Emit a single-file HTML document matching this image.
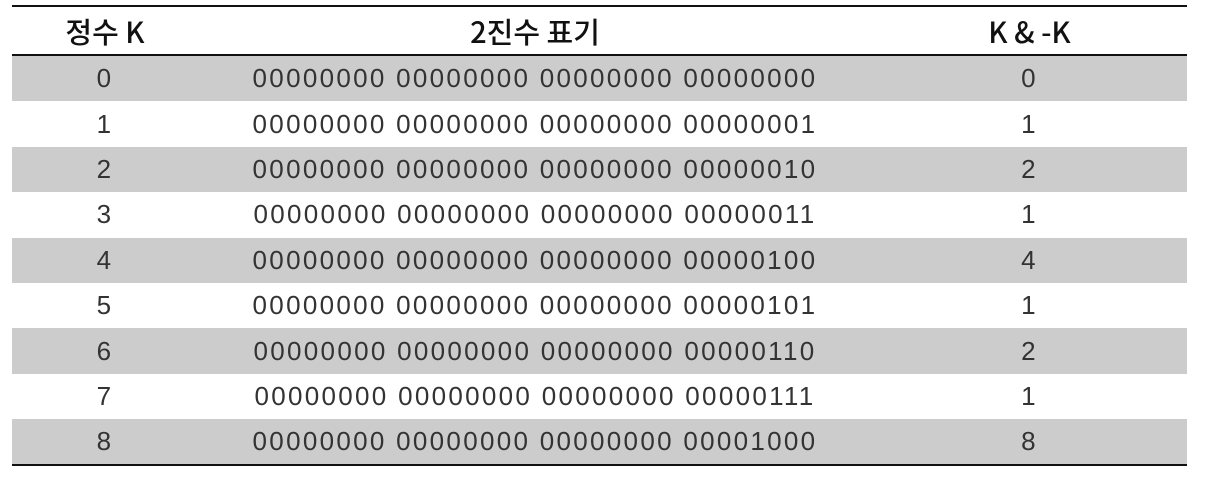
<!DOCTYPE html>
<html><head><meta charset="utf-8">
<style>
body{margin:0;width:1214px;height:487px;background:#fff;position:relative;overflow:hidden;font-family:"Liberation Sans","Noto Sans CJK KR",sans-serif;color:#333}
.line{position:absolute;left:12px;width:1175px;background:#111}
.row{position:absolute;left:12px;width:1175px;height:45.4px}
.cell{position:absolute;top:0;height:100%;display:flex;align-items:center;justify-content:center;font-size:26px;font-weight:400;letter-spacing:2.3px}
.c1{left:0;width:186px}.c2{left:186px;width:674px}.c3{left:860px;width:315px}
.hdr .cell{font-size:29px;font-weight:500;color:#111;letter-spacing:0;font-family:"Noto Sans CJK KR","Liberation Sans",sans-serif}
</style></head><body>
<div class="line" style="top:5px;height:2px"></div>
<div class="row hdr" style="top:7px;height:47px">
<div class="cell c1">정수 K</div>
<div class="cell c2">2진수 표기</div>
<div class="cell c3">K &amp; -K</div>
</div>
<div class="line" style="top:54px;height:2px"></div>
<div id="body"></div>
<div class="line" style="top:464px;height:2px"></div>
<script>
const ks=[0,1,2,3,4,5,6,7,8];
const bins=["00000000 00000000 00000000 00000000","00000000 00000000 00000000 00000001","00000000 00000000 00000000 00000010","00000000 00000000 00000000 00000011","00000000 00000000 00000000 00000100","00000000 00000000 00000000 00000101","00000000 00000000 00000000 00000110","00000000 00000000 00000000 00000111","00000000 00000000 00000000 00001000"];
const lows=[0,1,2,1,4,1,2,1,8];
const b=document.getElementById('body');
ks.forEach((k,i)=>{
  const r=document.createElement('div');
  r.className='row';
  
  
  r.style.top=(56+i*45.4)+'px';
  if(i%2===0)r.style.background='#cccccc';
  const vals=[k,bins[i],lows[i]];
  const names=['integer-cell','binary-cell','lowbit-cell'];
  vals.forEach((v,j)=>{
    const c=document.createElement('div');
    c.className='cell c'+(j+1);
    
    
    c.textContent=v;
    r.appendChild(c);
  });
  b.appendChild(r);
});
</script>
</body></html>
